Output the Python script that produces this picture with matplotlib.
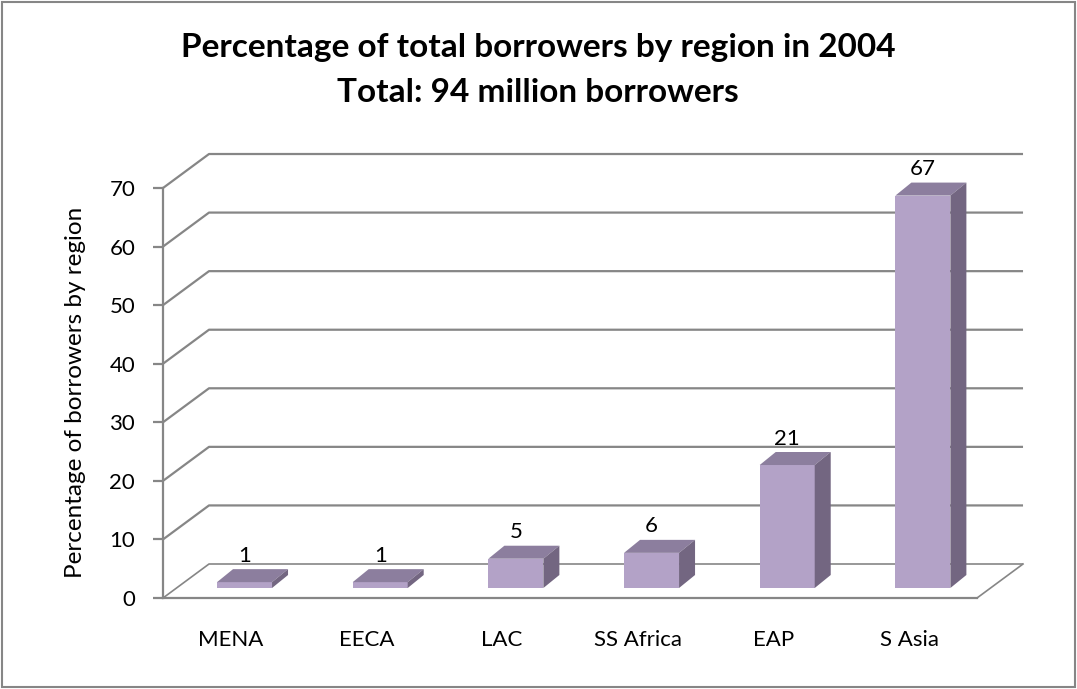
import matplotlib
matplotlib.use("Agg")
import matplotlib.pyplot as plt
from matplotlib.patches import Polygon, Rectangle

regions = ["MENA", "EECA", "LAC", "SS Africa", "EAP", "S Asia"]
shares = [1, 1, 5, 6, 21, 67]
yticks = [0, 10, 20, 30, 40, 50, 60, 70]
title1 = "Percentage of total borrowers by region in 2004"
title2 = "Total: 94 million borrowers"
ylabel = "Percentage of borrowers by region"

FRONT = "#B3A2C7"
TOP = "#8C7E9E"
SIDE = "#736681"
GRID = "#868686"
FONT = "Lato"

W_PX, H_PX, DPI = 1077, 689, 100
fig = plt.figure(figsize=(W_PX / DPI, H_PX / DPI), dpi=DPI)

# axes geometry (pixels)
x0_px, y0_px = 163, 598
px_per_cat, px_per_unit = 135.67, 5.857
xmin, xmax = -0.5, 6.0
ymin, ymax = 0, 80
ax_w = (xmax - xmin) * px_per_cat
ax_h = (ymax - ymin) * px_per_unit
ax = fig.add_axes([x0_px / W_PX, (H_PX - y0_px) / H_PX, ax_w / W_PX, ax_h / H_PX])
ax.set_xlim(xmin, xmax)
ax.set_ylim(ymin, ymax)
ax.patch.set_alpha(0)

# depth offsets (data units)
DX = 46 / px_per_cat
DY = 34 / px_per_unit
BX = 13.7 / px_per_cat
BY = 10 / px_per_unit
BW = 55 / px_per_cat
BDX = 16 / px_per_cat
BDY = 13 / px_per_unit

n = len(regions)
left_edge, right_edge = -0.5, n - 0.5

# back wall gridlines with left wall diagonals
for v in yticks:
    ax.plot([left_edge, left_edge + DX, right_edge + DX], [v, v + DY, v + DY],
            color=GRID, lw=1.6 if v > 0 else 1.2, zorder=1, clip_on=False,
            solid_capstyle="butt")
# floor right diagonal
ax.plot([right_edge, right_edge + DX], [0, DY], color=GRID, lw=1.2, zorder=1, clip_on=False)

# bars
xs = [i + BX for i in range(n)]
ax.bar(xs, shares, width=BW, bottom=BY, color=FRONT, zorder=3, linewidth=0)
for xc, v in zip(xs, shares):
    xl, xr = xc - BW / 2, xc + BW / 2
    top = BY + v
    ax.add_patch(Polygon([(xl, top), (xr, top), (xr + BDX, top + BDY), (xl + BDX, top + BDY)],
                         closed=True, facecolor=TOP, edgecolor="none", zorder=3))
    ax.add_patch(Polygon([(xr, BY), (xr, top), (xr + BDX, top + BDY), (xr + BDX, BY + BDY)],
                         closed=True, facecolor=SIDE, edgecolor="none", zorder=3))
    ax.annotate(str(v), (xc, top), xytext=(0, 19), textcoords="offset points",
                ha="center", va="center", fontsize=16, family=FONT, color="black", zorder=4)

# spines and ticks
for s in ["top", "right"]:
    ax.spines[s].set_visible(False)
ax.spines["left"].set_bounds(0, 70)
ax.spines["bottom"].set_bounds(left_edge, right_edge)
for s in ["left", "bottom"]:
    ax.spines[s].set_color(GRID)
    ax.spines[s].set_linewidth(1.6)
ax.set_yticks(yticks)
ax.set_yticklabels([str(t) for t in yticks], fontsize=16, family=FONT)
ax.tick_params(axis="y", direction="out", length=7, width=1.6, color=GRID, pad=13)
ax.set_xticks(range(n))
ax.set_xticklabels(regions, fontsize=16, family=FONT)
ax.tick_params(axis="x", length=0, pad=23)

fig.text(76 / W_PX, 1 - 392 / H_PX, ylabel, rotation=90, ha="center", va="center",
         fontsize=17.5, family=FONT)
fig.text(538 / W_PX, 1 - 47 / H_PX, title1, ha="center", va="center",
         fontsize=24, fontweight="bold", family=FONT)
fig.text(538 / W_PX, 1 - 92 / H_PX, title2, ha="center", va="center",
         fontsize=24, fontweight="bold", family=FONT)

# outer border
fig.add_artist(Rectangle((2 / W_PX, 2 / H_PX), 1 - 4 / W_PX, 1 - 4 / H_PX,
                         transform=fig.transFigure, fill=False, edgecolor=GRID, lw=1.5))

fig.savefig("out.png", dpi=DPI)
